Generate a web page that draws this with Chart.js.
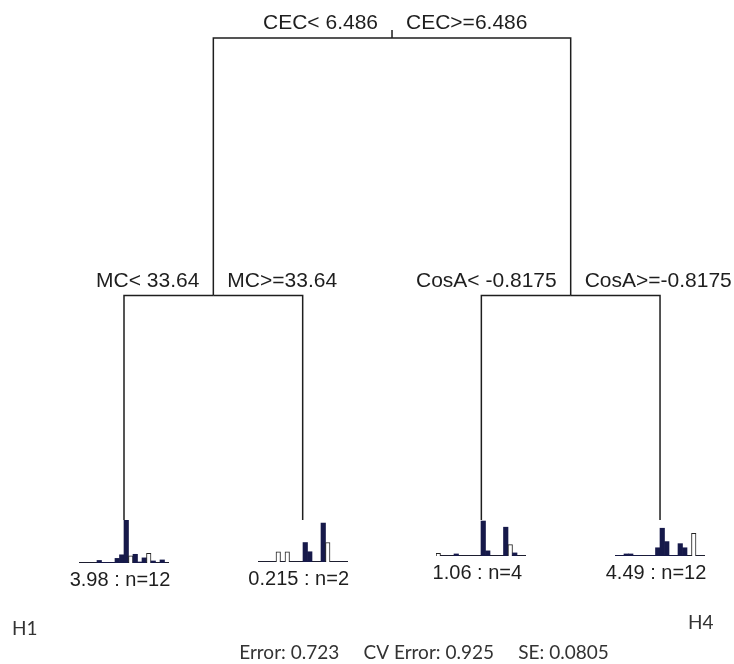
<!DOCTYPE html>
<html lang="en">

<head>
    <meta charset="UTF-8">
    <title>Regression Tree</title>
    <script src="https://cdn.jsdelivr.net/npm/chart.js"></script>
    <style>
        body { margin: 0; background: #fff; }
        #wrap { position: relative; width: 734px; height: 664px; }
        #wrap canvas { position: absolute; }
    </style>
</head>

<body>
    <div id="wrap">
        <canvas id="treeChart" width="734" height="664"></canvas>
    </div>
    <script>
        // tree nodes: x = leaf order, y = relative error level of the node
        const nodeX = [2.5, 1.5, 3.5, 1, 2, 3, 4];
        const nodeY = [1.0, 0.852, 0.852, 0.723, 0.723, 0.723, 0.723];
        const parentIdx = [-1, 0, 0, 1, 1, 2, 2];
        const splitLeft = ['CEC< 6.486', 'MC< 33.64', 'CosA< -0.8175'];
        const splitRight = ['CEC>=6.486', 'MC>=33.64', 'CosA>=-0.8175'];

        const leafNodes = [3, 4, 5, 6];
        const leafMean = ['3.98', '0.215', '1.06', '4.49'];
        const leafN = [12, 2, 4, 12];

        // species bars in each leaf (20 response variables)
        const species = Array.from({ length: 20 }, (_, i) => 'sp' + (i + 1));
        const leaf1Values = [0, 0, 0, 0, 2.5, 0.5, 0.5, 0.5, 4.5, 8, 42, 7, 8.5, 1, 5, 9.5, 2, 0, 3, 0];
        const leaf2Values = [0, 0, 0, 0, 10, 0, 10, 0, 0, 0, 19, 10, 0, 0, 38, 19, 0, 0, 0, 0];
        const leaf3Values = [2.5, 0, 0, 0, 2, 0, 0, 0, 0, 0, 34, 5, 0, 0, 0, 28, 11, 3, 0, 0];
        const leaf4Values = [0.5, 0.5, 2, 2, 0.5, 0.5, 0, 0.5, 0.5, 8, 27, 14, 0.5, 0.5, 12, 8, 0, 22, 0, 0];
        const leafValues = [leaf1Values, leaf2Values, leaf3Values, leaf4Values];

        // styling of the leaf histograms
        const hollowBars = [[11, 15], [4, 6, 15], [0, 16], [17]];
        const histHeight = [42, 41, 35, 35];
        const histWidth = 90;
        const barColor = '#16194a';
        const lineColor = '#1e1e1e';

        // tree branches as elbows: parent level -> child x -> child level
        const branchSets = [];
        for (let i = 1; i < nodeX.length; i++) {
            const p = parentIdx[i];
            branchSets.push({
                data: [{ x: nodeX[p], y: nodeY[p] }, { x: nodeX[i], y: nodeY[p] }, { x: nodeX[i], y: nodeY[i] }],
                showLine: true,
                borderColor: lineColor,
                borderWidth: 1.5,
                pointRadius: 0,
                tension: 0
            });
        }
        // small stub above the root
        branchSets.push({
            data: [{ x: nodeX[0], y: nodeY[0] }, { x: nodeX[0], y: nodeY[0] + 0.0046 }],
            showLine: true,
            borderColor: lineColor,
            borderWidth: 1.5,
            pointRadius: 0
        });

        const treeLabels = {
            id: 'treeLabels',
            afterDatasetsDraw(chart) {
                const ctx = chart.ctx;
                const xs = chart.scales.x, ys = chart.scales.y;
                ctx.save();
                ctx.fillStyle = '#1e1e1e';
                ctx.font = '21px "Liberation Sans", Arial, sans-serif';
                ctx.textBaseline = 'alphabetic';
                for (let i = 0; i < splitLeft.length; i++) {
                    const px = xs.getPixelForValue(nodeX[i]);
                    const py = ys.getPixelForValue(nodeY[i]);
                    ctx.textAlign = 'right';
                    ctx.fillText(splitLeft[i], px - 14, py - 9);
                    ctx.textAlign = 'left';
                    ctx.fillText(splitRight[i], px + 14, py - 9);
                }
                ctx.font = '20px "Liberation Sans", Arial, sans-serif';
                ctx.textAlign = 'center';
                leafNodes.forEach((n, k) => {
                    const px = xs.getPixelForValue(nodeX[n]);
                    const py = ys.getPixelForValue(nodeY[n]);
                    ctx.fillText(leafMean[k] + ' : n=' + leafN[k], px - 4, py + histHeight[k] + 24);
                });
                ctx.font = '19px Lato, "Open Sans", sans-serif';
                ctx.fillStyle = '#333';
                ctx.textAlign = 'left';
                ctx.fillText('H1', 12, 635);
                ctx.fillText('H4', 688, 629);
                ctx.textAlign = 'center';
                ctx.fillText('Error: 0.723     CV Error: 0.925     SE: 0.0805', 424, 659);
                ctx.restore();
            }
        };

        const tree = new Chart(document.getElementById('treeChart'), {
            type: 'scatter',
            data: { datasets: branchSets },
            options: {
                responsive: false,
                devicePixelRatio: 1,
                animation: false,
                layout: { padding: 0 },
                plugins: { legend: { display: false }, tooltip: { enabled: false } },
                scales: {
                    x: { type: 'linear', display: false, min: 0.306, max: 4.414 },
                    y: { type: 'linear', display: false, min: 0.64023, max: 1.02184 }
                }
            },
            plugins: [treeLabels]
        });

        // one small bar chart under each leaf
        const wrap = document.getElementById('wrap');
        leafNodes.forEach((n, k) => {
            const px = tree.scales.x.getPixelForValue(nodeX[n]);
            const py = tree.scales.y.getPixelForValue(nodeY[n]);
            const c = document.createElement('canvas');
            c.width = histWidth;
            c.height = histHeight[k] + 1;
            c.style.left = Math.round(px - histWidth / 2) + 'px';
            c.style.top = Math.round(py) + 'px';
            wrap.appendChild(c);
            const hollow = hollowBars[k];
            new Chart(c, {
                type: 'bar',
                data: {
                    labels: species,
                    datasets: [{
                        data: leafValues[k],
                        backgroundColor: species.map((s, i) => hollow.includes(i) ? '#ffffff' : barColor),
                        borderColor: species.map((s, i) => hollow.includes(i) ? '#222' : barColor),
                        borderWidth: species.map((s, i) => hollow.includes(i) ? 1 : 0),
                        borderSkipped: 'bottom',
                        barPercentage: 1,
                        categoryPercentage: 1
                    }]
                },
                options: {
                    responsive: false,
                    devicePixelRatio: 1,
                    animation: false,
                    layout: { padding: 0 },
                    plugins: { legend: { display: false }, tooltip: { enabled: false } },
                    scales: {
                        x: {
                            display: true,
                            grid: { display: false, drawTicks: false },
                            ticks: { display: false },
                            border: { display: true, color: '#222', width: 1.5 }
                        },
                        y: { display: false, min: 0, max: histHeight[k] }
                    }
                }
            });
        });
    </script>
</body>

</html>
